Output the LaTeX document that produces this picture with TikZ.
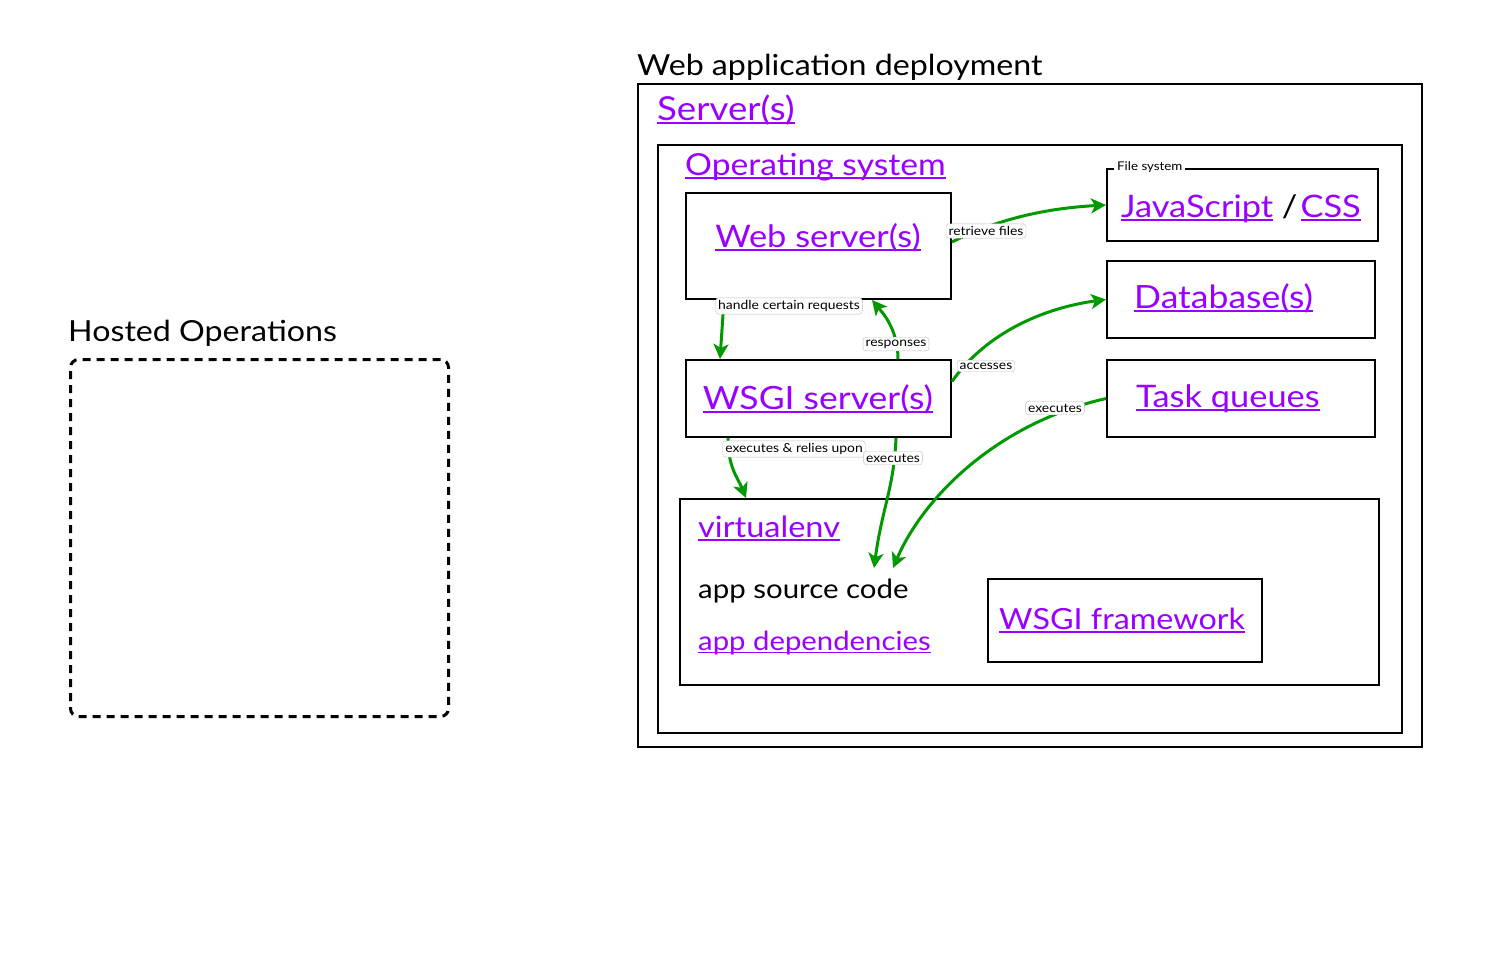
\documentclass[tikz,border=0pt]{standalone}
\usepackage{fontspec}
\setmainfont{Lato}[FakeStretch=1.11]
\usetikzlibrary{arrows.meta}
\usetikzlibrary{positioning}
\definecolor{linkpurple}{RGB}{153,0,255}
\definecolor{flowgreen}{RGB}{0,153,0}
\newcommand\lnk[1]{{\color{linkpurple}\setbox0=\hbox{#1}\rlap{\rule[-0.13em]{\wd0}{0.07em}}\box0}}
\newcommand\fs[1]{\fontsize{#1}{#1}\selectfont}

\begin{document}
\begin{tikzpicture}[x=1pt,y=-1pt,
  box/.style={draw,line width=2pt,inner sep=0pt,anchor=north west},
  txt/.style={inner sep=0pt,anchor=base west,font=\fs{31}},
  tag/.style={draw=black!25,fill=white,rounded corners=3pt,inner sep=2.5pt,font=\fs{12.5}},
  flow/.style={draw=flowgreen,line width=3pt,-{Stealth[length=15pt,width=15pt,inset=4pt]}}]
  \useasboundingbox (0,0) rectangle (1496,970);

  % hosted operations
  \node[draw,line width=3pt,dash pattern=on 8pt off 6pt,rounded corners=8pt,inner sep=0pt,anchor=north west,
        minimum width=378pt,minimum height=357pt] (hosted) at (69,358) {};
  \node[txt,font=\fs{29}] (hostedtitle) at (68,341) {Hosted Operations};

  % deployment boxes
  \node[box,minimum width=784pt,minimum height=663pt] (deploy) at (637,83) {};
  \node[box,minimum width=744pt,minimum height=588pt] (server) at (657,144) {};
  \node[box,minimum width=265pt,minimum height=106pt] (web) at (685,192) {};
  \node[box,minimum width=265pt,minimum height=77pt] (wsgi) at (685,359) {};
  \node[box,minimum width=271pt,minimum height=72pt] (static) at (1106,168) {};
  \node[box,minimum width=268pt,minimum height=77pt] (db) at (1106,260) {};
  \node[box,minimum width=268pt,minimum height=77pt] (tasks) at (1106,359) {};
  \node[box,minimum width=699pt,minimum height=186pt] (venv) at (679,498) {};
  \node[box,minimum width=274pt,minimum height=83pt] (framework) at (987,578) {};

  \node[fill=white,inner sep=3pt,anchor=west,font=\fs{12}] (fstag) at (1114,167) {File system};

  % texts
  \node[txt,font=\fs{29}] (deploytitle) at (637,75) {Web application deployment};
  \node[txt,font=\fs{33}] (servertitle) at (657,120) {\lnk{Server(s)}};
  \node[txt,font=\fs{30.3}] (ostitle) at (685,175) {\lnk{Operating system}};
  \node[txt,anchor=base] (webtext) at (818,247) {\lnk{Web server(s)}};
  \node[txt,anchor=base,font=\fs{32}] (wsgitext) at (818,409) {\lnk{WSGI server(s)}};
  \node[txt] (statictext) at (1121,217) {\lnk{JavaScript} /\kern3pt\lnk{CSS}};
  \node[txt,font=\fs{32}] (dbtext) at (1134,308) {\lnk{Database(s)}};
  \node[txt] (tasktext) at (1136,407) {\lnk{Task queues}};
  \node[txt,font=\fs{29.3}] (venvtext) at (698,537) {\lnk{virtualenv}};
  \node[txt,font=\fs{26.5}] (code) at (698,598) {app source code};
  \node[txt,font=\fs{26.4}] (deps) at (698,650) {\lnk{app dependencies}};
  \node[txt,font=\fs{29.1}] (fwtext) at (999,629) {\lnk{WSGI framework}};

  \coordinate (exec1) at (874,568);
  \coordinate (exec2) at (893,568);

  % connectors
  \draw[flow] ([yshift=4pt]web.east) .. controls +(50,-25) and +(-55,3) .. (static.west);
  \draw[flow] ([xshift=39pt]web.south west) -- ([xshift=35pt]wsgi.north west);
  \draw[flow] ([xshift=213pt]wsgi.north west) .. controls +(0,-30) and +(10,12) .. ([xshift=187pt]web.south west);
  \draw[flow] ([yshift=17pt]wsgi.east) .. controls +(35,-50) and +(-60,8) .. (db.west);
  \draw[flow] (tasks.west) .. controls +(-110,25) and +(30,-70) .. (exec2);
  \draw[flow] ([xshift=43pt]wsgi.south west) .. controls +(0,30) and +(-8,-20) .. ([xshift=67pt]venv.north west);
  \draw[flow] ([xshift=211pt]wsgi.south west) .. controls +(-2,50) and +(8,-60) .. (exec1);

  % connector labels
  \node[tag] (retrieve) at (986,231) {retrieve files};
  \node[tag] (handle) at (789,306) {handle certain requests};
  \node[tag] (responses) at (896,344) {responses};
  \node[tag] (accesses) at (986,366) {accesses};
  \node[tag] (runtasks) at (1055,408) {executes};
  \node[tag] (relies) at (794,449) {executes \& relies upon};
  \node[tag] (runcode) at (893,458) {executes};
\end{tikzpicture}
\end{document}
